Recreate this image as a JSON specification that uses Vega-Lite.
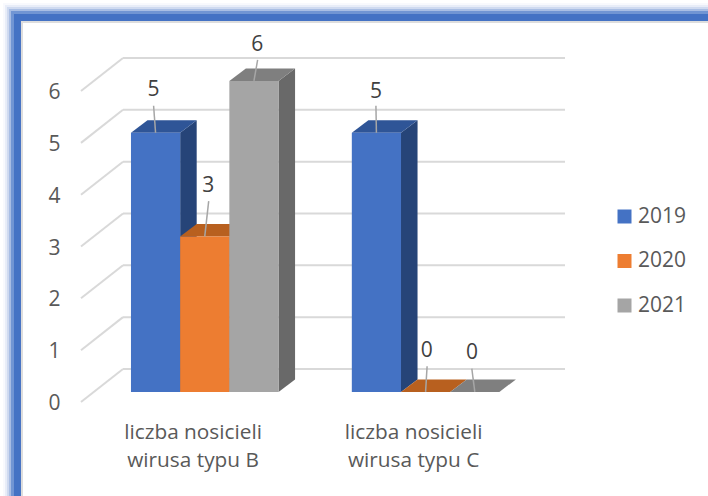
{"$schema":"https://vega.github.io/schema/vega-lite/v6.json","width":484,"height":344,"autosize":{"type":"none"},"padding":{"left":81,"top":58,"right":143,"bottom":94},"background":"white","view":{"stroke":null},
"config":{"font":"Open Sans","text":{"font":"Open Sans"}},
"datasets":{"bars":[{"category":"B","year":"2019","value":5},{"category":"B","year":"2020","value":3},{"category":"B","year":"2021","value":6},{"category":"C","year":"2019","value":5},{"category":"C","year":"2020","value":0},{"category":"C","year":"2021","value":0}]},
"data":{"name":"bars"},
"transform":[{"calculate":"toNumber(datum.year)-2019","as":"yi"},{"calculate":"datum.category=='B'?0:1","as":"ci"},{"calculate":"datum.ci*3+datum.yi","as":"i"},{"calculate":"1.016+datum.ci*4.49+datum.yi","as":"start"},{"calculate":"datum.start+1","as":"end"},{"calculate":"datum.start+0.5","as":"mid"},{"calculate":"datum.value+0.195","as":"front"},{"calculate":"0.195","as":"floor"},{"calculate":"datum.category+datum.year","as":"id"}],
"layer":[
{"data":{"values":[{"ring":1}]},"transform":[{"calculate":"-1.383","as":"a"},{"calculate":"13.4","as":"b"},{"calculate":"7.505","as":"c"},{"calculate":"-2.47","as":"d"}],"mark":{"type":"rect","filled":false,"stroke":"#4472C4","strokeWidth":20,"opacity":0.04},"encoding":{"x":{"field":"a","type":"quantitative","scale":{"domain":[0,9.84],"nice":false,"zero":false},"axis":{"title":null,"values":[2.268,6.752],"labelExpr":"datum.value<4?['liczba nosicieli','wirusa typu B']:['liczba nosicieli','wirusa typu C']","domain":false,"ticks":false,"grid":false,"labelPadding":20,"labelFontSize":20.8,"labelColor":"#595959","labelLineHeight":28.5,"labelOverlap":false,"labelFlush":false,"labelFont":"Open Sans","labelBound":false}},"x2":{"field":"b"},"y":{"field":"c","type":"quantitative","scale":{"domain":[0,6.637],"nice":false,"zero":false},"axis":{"title":null,"values":[0,1,2,3,4,5,6],"format":"d","domain":false,"ticks":false,"grid":false,"labelPadding":21,"labelFontSize":21,"labelColor":"#595959","labelFont":"Open Sans","labelOffset":1.5}},"y2":{"field":"d"}}},
{"data":{"values":[{"ring":2}]},"transform":[{"calculate":"-1.383","as":"a"},{"calculate":"13.4","as":"b"},{"calculate":"7.505","as":"c"},{"calculate":"-2.47","as":"d"}],"mark":{"type":"rect","filled":false,"stroke":"#4472C4","strokeWidth":16,"opacity":0.085},"encoding":{"x":{"field":"a","type":"quantitative"},"x2":{"field":"b"},"y":{"field":"c","type":"quantitative"},"y2":{"field":"d"}}},
{"data":{"values":[{"ring":3}]},"transform":[{"calculate":"-1.383","as":"a"},{"calculate":"13.4","as":"b"},{"calculate":"7.505","as":"c"},{"calculate":"-2.47","as":"d"}],"mark":{"type":"rect","filled":false,"stroke":"#4472C4","strokeWidth":12,"opacity":0.15},"encoding":{"x":{"field":"a","type":"quantitative"},"x2":{"field":"b"},"y":{"field":"c","type":"quantitative"},"y2":{"field":"d"}}},
{"data":{"values":[{"ring":4}]},"transform":[{"calculate":"-1.383","as":"a"},{"calculate":"13.4","as":"b"},{"calculate":"7.505","as":"c"},{"calculate":"-2.47","as":"d"}],"mark":{"type":"rect","filled":false,"stroke":"#4472C4","strokeWidth":8,"opacity":0.27},"encoding":{"x":{"field":"a","type":"quantitative"},"x2":{"field":"b"},"y":{"field":"c","type":"quantitative"},"y2":{"field":"d"}}},
{"data":{"values":[{"ring":5}]},"transform":[{"calculate":"-1.383","as":"a"},{"calculate":"13.4","as":"b"},{"calculate":"7.505","as":"c"},{"calculate":"-2.47","as":"d"}],"mark":{"type":"rect","filled":false,"stroke":"#4472C4","strokeWidth":4,"opacity":0.55},"encoding":{"x":{"field":"a","type":"quantitative"},"x2":{"field":"b"},"y":{"field":"c","type":"quantitative"},"y2":{"field":"d"}}},
{"data":{"values":[{"ring":6}]},"transform":[{"calculate":"-1.291","as":"a"},{"calculate":"13.4","as":"b"},{"calculate":"7.418","as":"c"},{"calculate":"-2.47","as":"d"}],"mark":{"type":"rect","filled":false,"stroke":"#4472C4","strokeWidth":7},"encoding":{"x":{"field":"a","type":"quantitative"},"x2":{"field":"b"},"y":{"field":"c","type":"quantitative"},"y2":{"field":"d"}}},
{"data":{"values":[{"ring":7}]},"transform":[{"calculate":"-1.2","as":"a"},{"calculate":"13.4","as":"b"},{"calculate":"7.332","as":"c"},{"calculate":"-2.47","as":"d"}],"mark":{"type":"rect","filled":false,"stroke":"#DDDDDD","strokeWidth":2},"encoding":{"x":{"field":"a","type":"quantitative"},"x2":{"field":"b"},"y":{"field":"c","type":"quantitative"},"y2":{"field":"d"}}},
{"data":{"values":[{"v":0},{"v":1},{"v":2},{"v":3},{"v":4},{"v":5},{"v":6}]},"transform":[{"calculate":"datum.v+0.637","as":"vb"},{"calculate":"0","as":"a"},{"calculate":"0.854","as":"b"}],"mark":{"type":"rule","stroke":"#D9D9D9","strokeWidth":2},"encoding":{"x":{"field":"a","type":"quantitative"},"x2":{"field":"b"},"y":{"field":"v","type":"quantitative"},"y2":{"field":"vb"}}},
{"data":{"values":[{"v":0},{"v":1},{"v":2},{"v":3},{"v":4},{"v":5},{"v":6}]},"transform":[{"calculate":"datum.v+0.637","as":"vb"},{"calculate":"0.854","as":"a"},{"calculate":"9.84","as":"b"}],"mark":{"type":"rule","stroke":"#D9D9D9","strokeWidth":2},"encoding":{"x":{"field":"a","type":"quantitative"},"x2":{"field":"b"},"y":{"field":"vb","type":"quantitative"}}},
{"transform":[{"calculate":"[0,1]","as":"t"},{"flatten":["t"]},{"calculate":"datum.end+datum.t*0.336","as":"px"},{"calculate":"datum.front+datum.t*0.241","as":"ptop"},{"calculate":"datum.floor+datum.t*0.241","as":"pbot"}],"mark":{"type":"area","opacity":1},"encoding":{"x":{"field":"px","type":"quantitative"},"y":{"field":"ptop","type":"quantitative","stack":null},"y2":{"field":"pbot"},"detail":{"field":"id"},"color":{"field":"year","type":"nominal","legend":null,"scale":{"domain":["2019","2020","2021"],"range":["#264478","#9E480E","#696969"]}}}},
{"transform":[{"calculate":"[0,1,2,3]","as":"k"},{"flatten":["k"]},{"calculate":"datum.start+[0,0.336,1,1.336][datum.k]","as":"px"},{"calculate":"datum.front+[0,0.241,0.241,0.241][datum.k]","as":"ptop"},{"calculate":"datum.front+[0,0,0,0.241][datum.k]","as":"pbot"}],"mark":{"type":"area","opacity":1},"encoding":{"x":{"field":"px","type":"quantitative"},"y":{"field":"ptop","type":"quantitative","stack":null},"y2":{"field":"pbot"},"detail":{"field":"id"},"color":{"field":"year","type":"nominal","legend":null,"scale":{"domain":["2019","2020","2021"],"range":["#2F5597","#B8601F","#7F7F7F"]}}}},
{"mark":{"type":"rect"},"encoding":{"x":{"field":"start","type":"quantitative"},"x2":{"field":"end"},"y":{"field":"floor","type":"quantitative"},"y2":{"field":"front"},"color":{"field":"year","type":"nominal","scale":{"domain":["2019","2020","2021"],"range":["#4472C4","#ED7D31","#A5A5A5"]},"legend":{"title":null,"orient":"none","legendX":533,"legendY":148,"symbolType":"square","symbolSize":196,"symbolStrokeWidth":0,"labelFontSize":21,"labelColor":"#595959","labelFont":"Open Sans","labelOffset":3,"rowPadding":22.5,"padding":0}}}},
{"transform":[{"calculate":"datum.mid+[-0.04,0.08,0.075,-0.01,0.03,-0.06][datum.i]","as":"lx"},{"calculate":"datum.front+[0.52,0.68,0.405,0.52,0.495,0.45][datum.i]","as":"ly"}],"mark":{"type":"rule","stroke":"#A6A6A6","strokeWidth":1.5},"encoding":{"x":{"field":"mid","type":"quantitative"},"x2":{"field":"lx"},"y":{"field":"front","type":"quantitative"},"y2":{"field":"ly"}}},
{"transform":[{"calculate":"datum.mid+[-0.04,0.07,0.067,-0.01,0.025,-0.055][datum.i]","as":"tx"},{"calculate":"datum.front+[0.87,1.03,0.74,0.83,0.835,0.79][datum.i]","as":"ty"}],"mark":{"type":"text","fontSize":21,"color":"#404040","baseline":"middle","align":"center","dy":2.5},"encoding":{"x":{"field":"tx","type":"quantitative"},"y":{"field":"ty","type":"quantitative"},"text":{"field":"value","type":"quantitative"}}}
],
"resolve":{"scale":{"color":"independent"}}}
